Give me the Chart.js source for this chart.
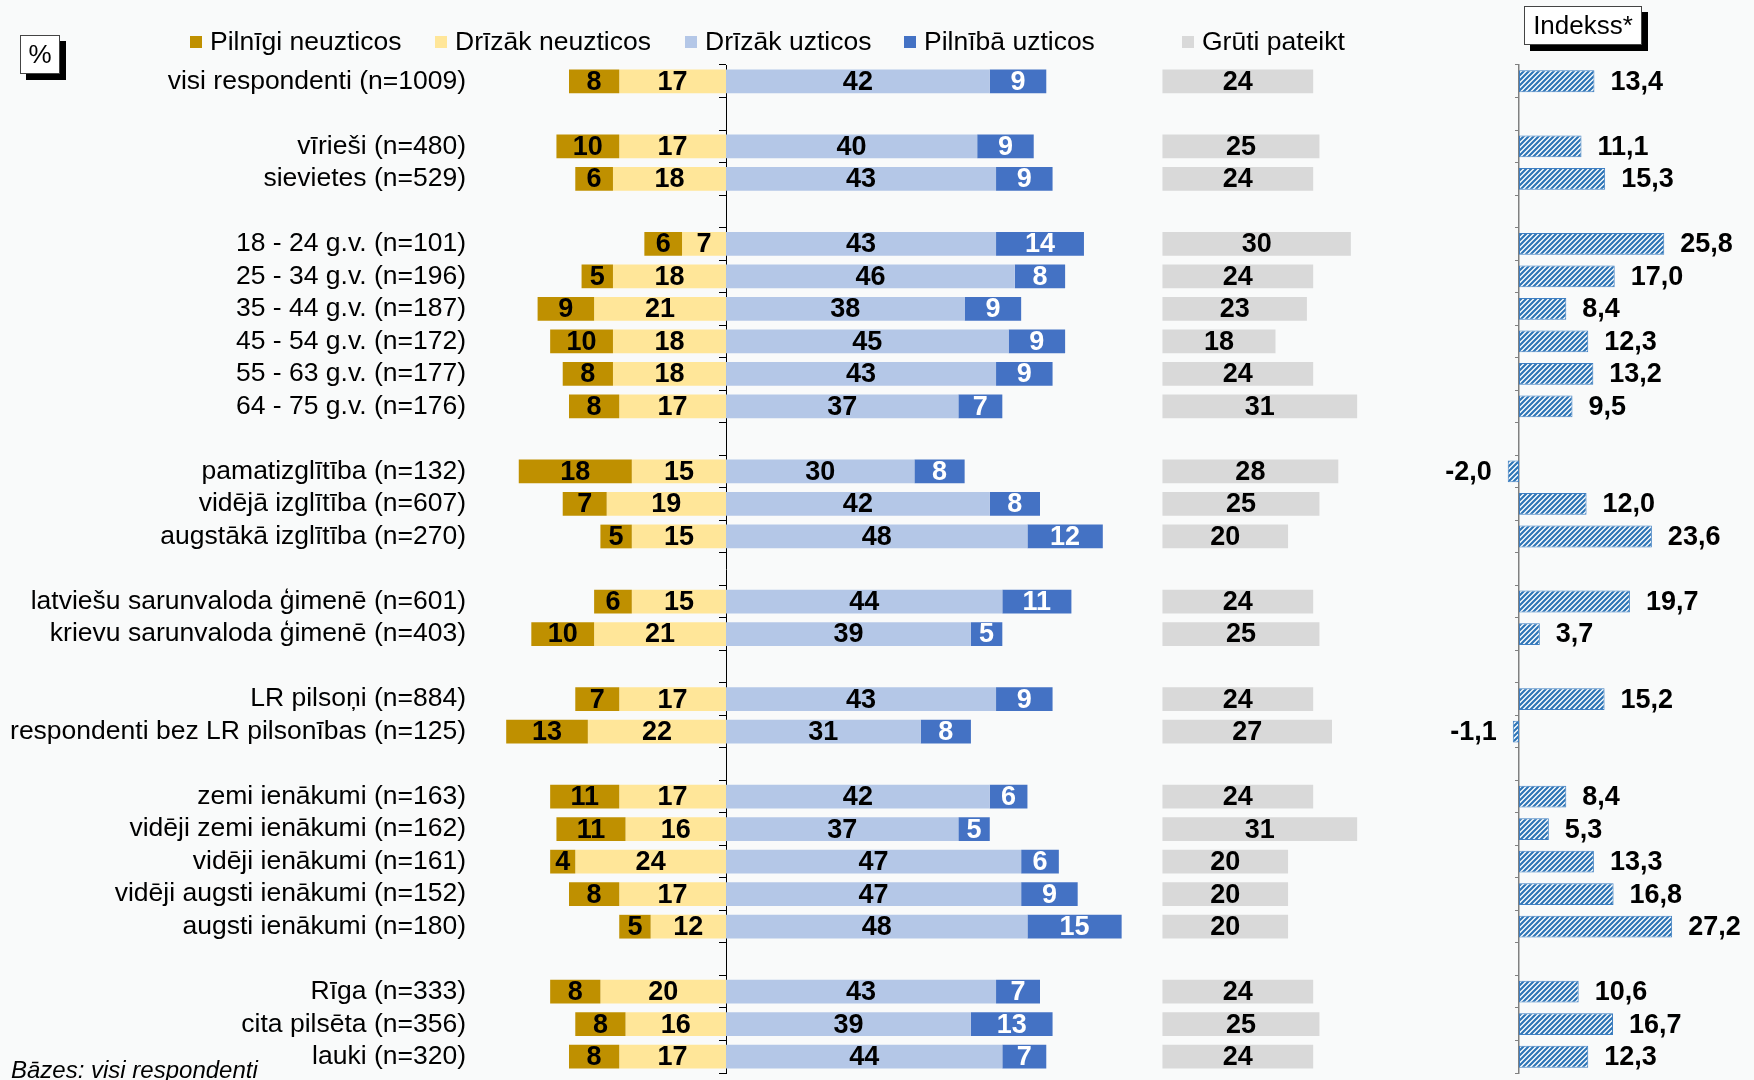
<!DOCTYPE html>
<html>
<head>
<meta charset="utf-8">
<script src="https://cdn.jsdelivr.net/npm/chart.js@4"></script>
<style>
	html, body { margin:0; padding:0; background:#f9fafa; }
	#wrap { position:relative; width:1754px; height:1080px; overflow:hidden; }
	#chart { position:absolute; left:0; top:0; }
	.box { position:absolute; background:#fff; border:1px solid #444; box-shadow:6px 6px 0 #000;
		font-family:"Liberation Sans", Arial, sans-serif; color:#000; text-align:center; }
	#pct { left:20px; top:35px; width:38px; height:37px; line-height:37px; font-size:26px; }
	#idx { left:1524px; top:6px; width:116px; height:37px; line-height:37px; font-size:26px; }
	#base { position:absolute; left:11px; top:1056px; font:italic 24px "Liberation Sans", Arial, sans-serif; color:#000; }
</style>
</head>
<body>
<div id="wrap">
	<canvas id="chart" width="1754" height="1080"></canvas>
	<div class="box" id="pct">%</div>
	<div class="box" id="idx">Indekss*</div>
	<div id="base">Bāzes: visi respondenti</div>
</div>
<script>

const categories = [
	'visi respondenti (n=1009)', '',
	'vīrieši (n=480)', 'sievietes (n=529)', '',
	'18 - 24 g.v. (n=101)', '25 - 34 g.v. (n=196)', '35 - 44 g.v. (n=187)',
	'45 - 54 g.v. (n=172)', '55 - 63 g.v. (n=177)', '64 - 75 g.v. (n=176)', '',
	'pamatizglītība (n=132)', 'vidējā izglītība (n=607)', 'augstākā izglītība (n=270)', '',
	'latviešu sarunvaloda ģimenē (n=601)', 'krievu sarunvaloda ģimenē (n=403)', '',
	'LR pilsoņi (n=884)', 'respondenti bez LR pilsonības (n=125)', '',
	'zemi ienākumi (n=163)', 'vidēji zemi ienākumi (n=162)', 'vidēji ienākumi (n=161)',
	'vidēji augsti ienākumi (n=152)', 'augsti ienākumi (n=180)', '',
	'Rīga (n=333)', 'cita pilsēta (n=356)', 'lauki (n=320)'
];

const seriesNames = ['Pilnīgi neuzticos', 'Drīzāk neuzticos', 'Drīzāk uzticos', 'Pilnībā uzticos', 'Grūti pateikt'];

const pilnigiNeuzticos = [8, null, 10, 6, null, 6, 5, 9, 10, 8, 8, null, 18, 7, 5, null, 6, 10, null, 7, 13, null, 11, 11, 4, 8, 5, null, 8, 8, 8];
const drizakNeuzticos  = [17, null, 17, 18, null, 7, 18, 21, 18, 18, 17, null, 15, 19, 15, null, 15, 21, null, 17, 22, null, 17, 16, 24, 17, 12, null, 20, 16, 17];
const drizakUzticos    = [42, null, 40, 43, null, 43, 46, 38, 45, 43, 37, null, 30, 42, 48, null, 44, 39, null, 43, 31, null, 42, 37, 47, 47, 48, null, 43, 39, 44];
const pilnibaUzticos   = [9, null, 9, 9, null, 14, 8, 9, 9, 9, 7, null, 8, 8, 12, null, 11, 5, null, 9, 8, null, 6, 5, 6, 9, 15, null, 7, 13, 7];
const grutiPateikt     = [24, null, 25, 24, null, 30, 24, 23, 18, 24, 31, null, 28, 25, 20, null, 24, 25, null, 24, 27, null, 24, 31, 20, 20, 20, null, 24, 25, 24];
const indekss          = [13.4, null, 11.1, 15.3, null, 25.8, 17.0, 8.4, 12.3, 13.2, 9.5, null, -2.0, 12.0, 23.6, null, 19.7, 3.7, null, 15.2, -1.1, null, 8.4, 5.3, 13.3, 16.8, 27.2, null, 10.6, 16.7, 12.3];

// where the "Grūti pateikt" column starts on the percent scale
const GRUTI_START = 69.5;

// layout (pixels)
const PLOT_LEFT = 470, PLOT_RIGHT = 1754;
const ZERO_MAIN = 726, PX_MAIN = 6.28;
const ZERO_IDX = 1519, PX_IDX = 5.63;
const LEGEND_X = [190, 435, 685, 904, 1182];
const FONT = '"Liberation Sans", Arial, sans-serif';

Chart.defaults.font.family = FONT;
Chart.defaults.color = '#000';

function hatch(color)
{
	const c = document.createElement('canvas');
	c.width = 5; c.height = 5;
	const g = c.getContext('2d');
	g.fillStyle = '#fff';
	g.fillRect(0, 0, 5, 5);
	g.strokeStyle = color;
	g.lineWidth = 2.2;
	g.beginPath();
	g.moveTo(-2, 7); g.lineTo(7, -2);
	g.moveTo(-2, 2); g.lineTo(2, -2);
	g.moveTo(3, 7); g.lineTo(7, 3);
	g.stroke();
	return g.createPattern(c, 'repeat');
}

const span = (a, b) => a.map((v, i) => v == null ? null : b(v, i));

const datasets = [
	{
		label: seriesNames[0],
		data: span(pilnigiNeuzticos, (v, i) => [-(v + drizakNeuzticos[i]), -drizakNeuzticos[i]]),
		shown: pilnigiNeuzticos,
		backgroundColor: '#bf9000', labelColor: '#000'
	},
	{
		label: seriesNames[1],
		data: span(drizakNeuzticos, v => [-v, 0]),
		shown: drizakNeuzticos,
		backgroundColor: '#ffe699', labelColor: '#000'
	},
	{
		label: seriesNames[2],
		data: span(drizakUzticos, v => [0, v]),
		shown: drizakUzticos,
		backgroundColor: '#b4c7e7', labelColor: '#000'
	},
	{
		label: seriesNames[3],
		data: span(pilnibaUzticos, (v, i) => [drizakUzticos[i], drizakUzticos[i] + v]),
		shown: pilnibaUzticos,
		backgroundColor: '#4472c4', labelColor: '#fff'
	},
	{
		label: seriesNames[4],
		data: span(grutiPateikt, v => [GRUTI_START, GRUTI_START + v]),
		shown: grutiPateikt,
		backgroundColor: '#d9d9d9', labelColor: '#000'
	},
	{
		label: 'Indekss',
		data: indekss,
		shown: indekss,
		isIndex: true,
		xAxisID: 'xi',
		barPercentage: 0.67,
		backgroundColor: hatch('#2e75b6'),
		borderColor: '#3f7fc2',
		borderWidth: 1,
		borderSkipped: false
	}
];

const valueLabels = {
	id: 'valueLabels',
	afterDatasetsDraw(chart)
	{
		const ctx = chart.ctx;
		ctx.save();
		ctx.font = 'bold 27px ' + FONT;
		ctx.textBaseline = 'middle';
		chart.data.datasets.forEach((ds, di) => {
			chart.getDatasetMeta(di).data.forEach((bar, i) => {
				const v = ds.shown[i];
				if (v == null) return;
				if (ds.isIndex) {
					const txt = v.toFixed(1).replace('.', ',');
					ctx.fillStyle = '#000';
					ctx.textAlign = v >= 0 ? 'left' : 'right';
					ctx.fillText(txt, bar.x + (v >= 0 ? 16 : -16), bar.y + 1);
				} else {
					ctx.fillStyle = ds.labelColor;
					ctx.textAlign = 'center';
					ctx.fillText(String(v), (bar.x + bar.base) / 2, bar.y + 1);
				}
			});
		});
		ctx.restore();
	}
};

const topLegend = {
	id: 'topLegend',
	afterDraw(chart)
	{
		const ctx = chart.ctx;
		ctx.save();
		ctx.font = '26.5px ' + FONT;
		ctx.textBaseline = 'middle';
		ctx.textAlign = 'left';
		seriesNames.forEach((name, i) => {
			const x = LEGEND_X[i];
			ctx.fillStyle = chart.data.datasets[i].backgroundColor;
			ctx.fillRect(x, 36, 12, 12);
			ctx.fillStyle = '#000';
			ctx.fillText(name, x + 20, 43);
		});
		ctx.restore();
	}
};

const chart = new Chart(document.getElementById('chart'), {
	type: 'bar',
	data: { labels: categories, datasets: datasets },
	plugins: [valueLabels, topLegend],
	options: {
		responsive: false,
		animation: false,
		indexAxis: 'y',
		layout: { padding: { top: 65, bottom: 7, left: 0, right: 0 } },
		datasets: { bar: { grouped: false, barPercentage: 0.73, categoryPercentage: 1 } },
		plugins: { legend: { display: false }, tooltip: { enabled: false } },
		scales: {
			x: {
				type: 'linear', display: false,
				min: (PLOT_LEFT - ZERO_MAIN) / PX_MAIN,
				max: (PLOT_RIGHT - ZERO_MAIN) / PX_MAIN
			},
			xi: {
				type: 'linear', axis: 'x', display: false,
				min: (PLOT_LEFT - ZERO_IDX) / PX_IDX,
				max: (PLOT_RIGHT - ZERO_IDX) / PX_IDX
			},
			y: {
				type: 'category', offset: true,
				grid: { display: false, drawTicks: false },
				border: { display: false },
				ticks: { autoSkip: false, padding: 4, color: '#000', font: { size: 26.5 } },
				afterFit: s => {
					s.width = PLOT_LEFT;
					s.paddingTop = 0;
					s.paddingBottom = 0;
				}
			},
			y2: {
				type: 'category', axis: 'y', position: { x: 0 }, offset: true, z: 1,
				grid: { offset: true, drawOnChartArea: false, tickLength: 7, color: '#000', lineWidth: 1 },
				border: { color: '#000', width: 1 },
				ticks: { display: false, autoSkip: false }
			},
			y3: {
				type: 'category', axis: 'y', position: { xi: 0 }, offset: true, z: 1,
				grid: { offset: true, drawOnChartArea: false, tickLength: 3, color: '#808080', lineWidth: 1 },
				border: { color: '#808080', width: 1.5 },
				ticks: { display: false, autoSkip: false }
			}
		}
	}
});

</script>
</body>
</html>
